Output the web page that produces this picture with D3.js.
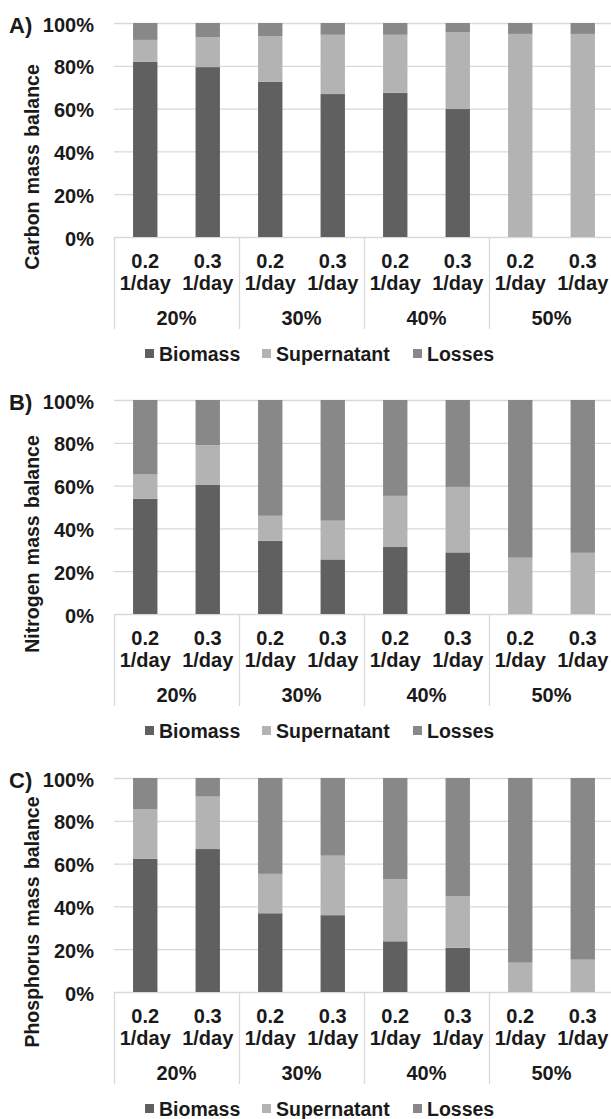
<!DOCTYPE html>
<html>
<head>
<meta charset="utf-8">
<script src="https://cdn.jsdelivr.net/npm/d3@7"></script>
<style>
  body { margin: 0; background: #fff; }
  svg text { font-family: "Liberation Sans", Arial, sans-serif; font-weight: bold; fill: #1a1a1a; }
</style>
</head>
<body>
<svg width="611" height="1119"></svg>
<script>
// categories
var rates = ["0.2", "0.3", "0.2", "0.3", "0.2", "0.3", "0.2", "0.3"];
var groups = ["20%", "30%", "40%", "50%"];
var seriesNames = ["Biomass", "Supernatant", "Losses"];
var yTicks = [0, 20, 40, 60, 80, 100];

// values, % of total
var carbonBiomass = [81.8, 79.4, 72.6, 66.8, 67.4, 59.8, 0, 0];
var carbonSupernatant = [10.3, 13.9, 21.3, 27.7, 27.1, 35.8, 94.9, 94.9];
var carbonLosses = [7.9, 6.7, 6.1, 5.5, 5.5, 4.4, 5.1, 5.1];

var nitrogenBiomass = [53.9, 60.3, 34.2, 25.5, 31.3, 28.8, 0, 0];
var nitrogenSupernatant = [11.3, 18.6, 11.7, 18.1, 23.9, 30.6, 26.3, 28.6];
var nitrogenLosses = [34.8, 21.1, 54.1, 56.4, 44.8, 40.6, 73.7, 71.4];

var phosphorusBiomass = [62.2, 66.8, 36.8, 35.9, 23.7, 20.7, 0, 0];
var phosphorusSupernatant = [23.3, 24.5, 18.4, 27.8, 29.0, 24.0, 13.7, 15.1];
var phosphorusLosses = [14.5, 8.7, 44.8, 36.3, 47.3, 55.3, 86.3, 84.9];

var panels = [
  { tag: "A)", title: "Carbon mass balance", top: 23,
    values: [carbonBiomass, carbonSupernatant, carbonLosses] },
  { tag: "B)", title: "Nitrogen mass balance", top: 400,
    values: [nitrogenBiomass, nitrogenSupernatant, nitrogenLosses] },
  { tag: "C)", title: "Phosphorus mass balance", top: 778,
    values: [phosphorusBiomass, phosphorusSupernatant, phosphorusLosses] }
];

var colors = { Biomass: "#606060", Supernatant: "#b3b3b3", Losses: "#888888" };
var gridColor = "#d9d9d9";

var svg = d3.select("svg");
var left = 114, right = 614, plotH = 214;

var idx = d3.range(rates.length);
var x = d3.scaleBand().domain(idx).range([left, right])
  .paddingInner(0.61).paddingOuter(0.305);
var xGroup = d3.scaleBand().domain(groups).range([left, right]);

panels.forEach(function (p) {
  var g = svg.append("g").attr("transform", "translate(0," + p.top + ")");
  var y = d3.scaleLinear().domain([0, 100]).range([plotH, 0]);

  // gridlines
  g.append("g").selectAll("line")
    .data(yTicks)
    .enter()
    .append("line")
    .attr("x1", left).attr("x2", 611)
    .attr("y1", function (d) { return y(d) + 0.5; })
    .attr("y2", function (d) { return y(d) + 0.5; })
    .style("stroke", gridColor).attr("stroke-width", 1.3);

  // y tick labels
  g.append("g").selectAll("text")
    .data(yTicks)
    .enter()
    .append("text")
    .attr("x", 94)
    .attr("y", function (d) { return y(d) + 8.5; })
    .attr("text-anchor", "end")
    .attr("font-size", 20)
    .text(function (d) { return d + "%"; });

  // stacked bars
  var rows = idx.map(function (i) {
    var r = { i: i };
    seriesNames.forEach(function (s, k) { r[s] = p.values[k][i]; });
    return r;
  });
  var stacked = d3.stack().keys(seriesNames)(rows);

  g.append("g").selectAll("g")
    .data(stacked)
    .enter()
    .append("g")
    .attr("fill", function (d) { return colors[d.key]; })
    .selectAll("rect")
    .data(function (d) { return d; })
    .enter()
    .append("rect")
    .attr("x", function (d) { return x(d.data.i); })
    .attr("width", x.bandwidth())
    .attr("y", function (d) { return y(d[1]); })
    .attr("height", function (d) { return y(d[0]) - y(d[1]); });

  // category separators
  g.append("g").selectAll("line")
    .data(groups)
    .enter()
    .append("line")
    .attr("x1", function (d) { return Math.round(xGroup(d)) + 0.5; })
    .attr("x2", function (d) { return Math.round(xGroup(d)) + 0.5; })
    .attr("y1", plotH).attr("y2", plotH + 92)
    .style("stroke", gridColor).attr("stroke-width", 1.3);

  // rate labels
  var lab = g.append("g").selectAll("text")
    .data(idx)
    .enter()
    .append("text")
    .attr("text-anchor", "middle")
    .attr("font-size", 20);
  lab.append("tspan")
    .attr("x", function (i) { return x(i) + x.bandwidth() / 2; })
    .attr("y", plotH + 31)
    .text(function (i) { return rates[i]; });
  lab.append("tspan")
    .attr("x", function (i) { return x(i) + x.bandwidth() / 2; })
    .attr("y", plotH + 53)
    .text("1/day");

  // group labels
  g.append("g").selectAll("text")
    .data(groups)
    .enter()
    .append("text")
    .attr("x", function (d) { return xGroup(d) + xGroup.bandwidth() / 2; })
    .attr("y", plotH + 88)
    .attr("text-anchor", "middle")
    .attr("font-size", 20)
    .text(function (d) { return d; });

  // panel tag
  g.append("text")
    .attr("x", 9).attr("y", 10)
    .attr("font-size", 22)
    .text(p.tag);

  // axis title
  g.append("text")
    .attr("transform", "translate(39," + 144 + ") rotate(-90)")
    .attr("text-anchor", "middle")
    .attr("font-size", 19.5)
    .attr("word-spacing", 2)
    .text(p.title);

  // legend
  var legX = [145, 262, 413];
  var leg = g.append("g").selectAll("g")
    .data(seriesNames)
    .enter()
    .append("g")
    .attr("transform", function (d, k) { return "translate(" + legX[k] + "," + (plotH + 117) + ")"; });
  leg.append("rect")
    .attr("x", 0).attr("y", -5).attr("width", 9).attr("height", 9)
    .attr("fill", function (d) { return colors[d]; });
  leg.append("text")
    .attr("x", 14).attr("y", 7)
    .attr("font-size", 19.5)
    .text(function (d) { return d; });
});
</script>
</body>
</html>
